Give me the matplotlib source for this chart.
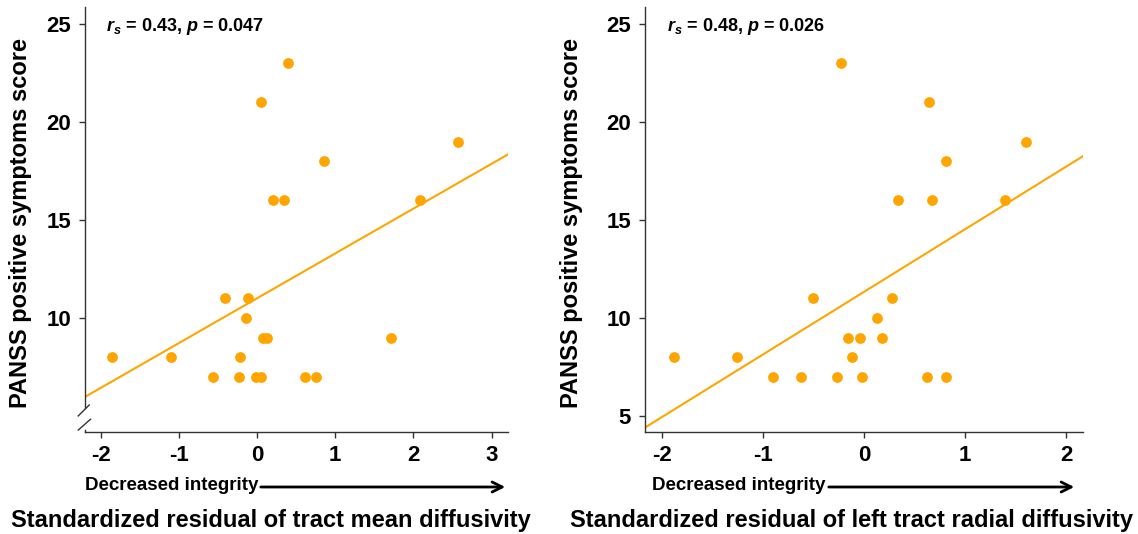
import numpy as np
import matplotlib
matplotlib.use("Agg")
import matplotlib.pyplot as plt

plt.rcParams['font.family'] = ['Liberation Sans', 'DejaVu Sans']
plt.rcParams['mathtext.fontset'] = 'custom'
plt.rcParams['mathtext.it'] = 'Liberation Sans:italic:bold'
plt.rcParams['mathtext.rm'] = 'Liberation Sans:bold'

# data
md_x = [-1.85, -1.105, -0.566, -0.41, -0.228, -0.224, -0.137, -0.119, -0.009, 0.046, 0.055,
        0.078, 0.128, 0.20, 0.35, 0.40, 0.616, 0.753, 0.858, 1.708, 2.09, 2.575]
md_y = [8, 8, 7, 11, 7, 8, 10, 11, 7, 7, 21, 9, 9, 16, 16, 23, 7, 7, 18, 9, 16, 19]

rd_x = [-1.885, -1.26, -0.906, -0.626, -0.504, -0.263, -0.227, -0.162, -0.119, -0.036, -0.025,
        0.13, 0.18, 0.277, 0.338, 0.619, 0.647, 0.669, 0.813, 0.813, 1.396, 1.604]
rd_y = [8, 8, 7, 7, 11, 7, 23, 9, 8, 9, 7, 10, 9, 11, 16, 7, 21, 16, 7, 18, 16, 19]

stats = ["$r_s$ = 0.43, $p$ = 0.047", "$r_s$ = 0.48, $p$ = 0.026"]
titles = ["Standardized residual of tract mean diffusivity",
          "Standardized residual of left tract radial diffusivity"]
ylab = "PANSS positive symptoms score"

orange = "#FFA500"
axcol = "#333333"

fig = plt.figure(figsize=(11.38, 5.34), dpi=100)
ax1 = fig.add_axes([0.0747, 0.191, 0.3717, 0.796])
ax2 = fig.add_axes([0.5668, 0.191, 0.3849, 0.796])

panels = [(ax1, md_x, md_y, (-2.2, 3.21), [-2, -1, 0, 1, 2, 3], [10, 15, 20, 25]),
          (ax2, rd_x, rd_y, (-2.168, 2.168), [-2, -1, 0, 1, 2], [5, 10, 15, 20, 25])]

for i, (ax, x, y, xl, xt, yt) in enumerate(panels):
    ax.scatter(x, y, s=60, color=orange, zorder=3, linewidths=0)
    slope, icpt = np.polyfit(x, y, 1)
    xs = np.array(xl)
    ax.plot(xs, icpt + slope * xs, color=orange, lw=1.5, zorder=2)
    ax.set_xlim(xl)
    ax.set_ylim(4.18, 25.87)
    ax.set_xticks(xt)
    ax.set_xticklabels([str(v) for v in xt])
    ax.set_yticks(yt)
    for s in ["top", "right"]:
        ax.spines[s].set_visible(False)
    for s in ["left", "bottom"]:
        ax.spines[s].set_color(axcol)
        ax.spines[s].set_linewidth(1.0)
    ax.tick_params(direction="out", length=4, width=1, color=axcol, labelsize=16)
    ax.tick_params(axis="y", pad=6)
    ax.tick_params(axis="x", pad=5)
    for lab in ax.get_xticklabels() + ax.get_yticklabels():
        lab.set_fontweight("bold")
    ax.text(0.05, 0.955, stats[i], transform=ax.transAxes, fontsize=13,
            fontweight="bold", ha="left", va="center")

# axis break on the left panel
ax1.spines["left"].set_bounds(5.4, 25.87)
tr = ax1.get_yaxis_transform()
ax1.plot([-0.016, 0.010], [5.0, 5.56], color=axcol, lw=1, transform=tr, clip_on=False)
ax1.plot([-0.016, 0.013], [4.28, 4.83], color=axcol, lw=1, transform=tr, clip_on=False)
ax1.plot([0, 0], [4.18, 4.3], color=axcol, lw=1, transform=tr, clip_on=False)

# y labels
fig.text(0.0176, 0.582, ylab, rotation=90, fontsize=17, fontweight="bold", ha="center", va="center")
fig.text(0.502, 0.582, ylab, rotation=90, fontsize=17, fontweight="bold", ha="center", va="center")

# "Decreased integrity" arrows
for ax, x0, x1, x2 in [(ax1, 85, 258, 508), (ax2, 652, 826, 1077)]:
    fig.text(x0 / 1138, 1 - 485 / 534, "Decreased integrity", fontsize=13.5, fontweight="bold",
             ha="left", va="center")
    fig.add_artist(matplotlib.patches.FancyArrowPatch(
        (x1 / 1138, 1 - 487 / 534), (x2 / 1138, 1 - 487 / 534), transform=fig.transFigure,
        arrowstyle="->", mutation_scale=18, lw=2, color="black"))

# bottom titles
fig.text(271 / 1138, 1 - 520 / 534, titles[0], fontsize=17, fontweight="bold", ha="center", va="center")
fig.text(852 / 1138, 1 - 520 / 534, titles[1], fontsize=17, fontweight="bold", ha="center", va="center")

fig.savefig("out.png", dpi=100)
